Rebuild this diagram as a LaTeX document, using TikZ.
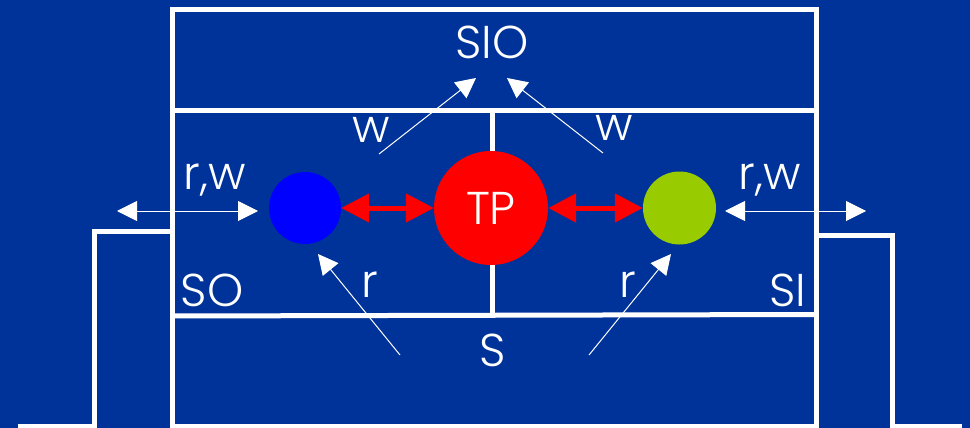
\documentclass[tikz,border=0pt]{standalone}
\usepackage{fontspec}
\setmainfont{Poppins}[UprightFont=* Light]
\usetikzlibrary{arrows.meta}
\definecolor{bg}{RGB}{0,51,153}
\definecolor{lime}{RGB}{153,204,0}
\begin{document}
\begin{tikzpicture}[x=1pt,y=-1pt,
  wall/.style={draw=white,line width=5pt},
  ball/.style={circle,inner sep=0pt,draw=none},
  lbl/.style={text=white,font=\fontsize{46}{46}\selectfont,inner sep=0pt},
  thin arrow/.style={draw=white,line width=1pt,-{Triangle[length=20pt,width=20pt]}},
  thin twoway/.style={draw=white,line width=1pt,{Triangle[length=20pt,width=20pt]}-{Triangle[length=20pt,width=20pt]}},
  red twoway/.style={draw=red,line width=5pt,{Triangle[length=28pt,width=28pt]}-{Triangle[length=28pt,width=28pt]}}]
\fill[bg] (0,0) rectangle (970,428);
\useasboundingbox (0,0) rectangle (970,428);

% main frame with its three rooms
\draw[wall] (172.5,440) -- (172.5,9.5) -- (816.5,9.5) -- (816.5,440);
\draw[wall] (172.5,110.5) -- (816.5,110.5);
\draw[wall] (172.5,316) -- (816.5,314.5);
\draw[wall] (492,110.5) -- (492,315);
\draw[wall] (172.5,426) -- (816.5,426);
% side steps
\draw[wall] (18,426) -- (94,426) -- (94,231) -- (172.5,231);
\draw[wall] (816.5,235) -- (892.5,235) -- (892.5,426) -- (962,426);

% processes
\node[ball,fill=blue,minimum size=72pt] (so) at (305,208) {};
\node[ball,fill=red,minimum size=114pt,lbl] (tp) at (491,208) {TP};
\node[ball,fill=lime,minimum size=73pt] (si) at (679.5,208) {};

\draw[red twoway] (so) -- (tp);
\draw[red twoway] (tp) -- (si);

% room labels
\node[lbl] (sio) at (492,42) {SIO};
\node[lbl] (solbl) at (212,290) {SO};
\node[lbl] (silbl) at (788,290) {SI};
\node[lbl] (slbl) at (493,350) {S};

% access arrows
\coordinate (wlTail) at (379,154); \coordinate (wlTip) at (476,78);
\coordinate (wrTail) at (603,153); \coordinate (wrTip) at (507,78);
\coordinate (rlTail) at (400,355); \coordinate (rlTip) at (318,254);
\coordinate (rrTail) at (589,355); \coordinate (rrTip) at (671,254);
\draw[thin arrow] (wlTail) -- (wlTip);
\draw[thin arrow] (wrTail) -- (wrTip);
\draw[thin arrow] (rlTail) -- (rlTip);
\draw[thin arrow] (rrTail) -- (rrTip);

\coordinate (lL) at (117,211); \coordinate (lR) at (258,211);
\coordinate (rL) at (725,211); \coordinate (rR) at (866,211);
\draw[thin twoway] (lL) -- (lR);
\draw[thin twoway] (rL) -- (rR);

% arrow labels
\node[lbl] (wl) at (371,130) {w};
\node[lbl] (wr) at (614,128) {w};
\node[lbl] (rwl) at (215,180) {r,w};
\node[lbl] (rwr) at (770,180) {r,w};
\node[lbl] (rl) at (370,285) {r};
\node[lbl] (rr) at (628,285) {r};
\end{tikzpicture}
\end{document}
